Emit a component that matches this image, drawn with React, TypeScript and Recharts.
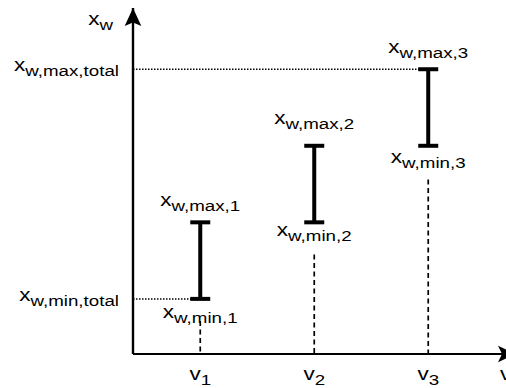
import React from 'react';
import {
  ComposedChart,
  XAxis,
  YAxis,
  Scatter,
  ErrorBar,
  ReferenceLine,
  ReferenceDot,
} from 'recharts';

// positions on the v axis and the x_w interval of each point
const V_POS = [1, 2, 3];
const V_SUBS = ['1', '2', '3'];
const XW_MIN = [1, 2, 3];
const XW_MAX = [2, 3, 4];
// where the dashed drop lines start (in x_w units)
const GUIDE_TOP = [0.71, 1.58, 2.56];

const MAX_LABEL_SUBS = ['w,max,1', 'w,max,2', 'w,max,3'];
const MIN_LABEL_SUBS = ['w,min,1', 'w,min,2', 'w,min,3'];
const TOTAL_MIN_SUB = 'w,min,total';
const TOTAL_MAX_SUB = 'w,max,total';

const X_DOMAIN = [0.41, 3.77];
const Y_DOMAIN = [0.28, 4.8];

const XW_MIN_TOTAL = Math.min(...XW_MIN);
const XW_MAX_TOTAL = Math.max(...XW_MAX);

const rows = V_POS.map((v, i) => ({
  i,
  v,
  lo: XW_MIN[i],
  hi: XW_MAX[i],
  mid: (XW_MIN[i] + XW_MAX[i]) / 2,
  err: (XW_MAX[i] - XW_MIN[i]) / 2,
}));

const FONT = '"Liberation Sans", Arial, Helvetica, sans-serif';
const STRETCH = 1.25;
const MAX_DY = [-16, -22, -16];
const MIN_DY = [19, 14, 17];

function SubText({ x, y, main, sub, anchor = 'middle' }: any) {
  return (
    <text
      transform={`translate(${x},${y}) scale(${STRETCH},1)`}
      textAnchor={anchor}
      fontFamily={FONT}
      fontSize={18}
      fill="#000"
    >
      {main}
      {sub ? (
        <tspan fontSize={15} dy={5}>
          {sub}
        </tspan>
      ) : null}
    </text>
  );
}

const VTick = (props: any) => {
  const { x, y, payload } = props;
  const idx = V_POS.indexOf(payload.value);
  return <SubText x={x} y={y} main="v" sub={V_SUBS[idx]} />;
};

const TotalTick = (props: any) => {
  const { x, y, payload } = props;
  const sub = payload.value === XW_MIN_TOTAL ? TOTAL_MIN_SUB : TOTAL_MAX_SUB;
  return <SubText x={x} y={y + 2} main="x" sub={sub} anchor="end" />;
};

const UpArrow = (props: any) => {
  const { cx, cy } = props;
  return (
    <g>
      <polygon
        points={`${cx},${cy} ${cx + 8.3},${cy + 18} ${cx},${cy + 14.5} ${cx - 8.3},${cy + 18}`}
        fill="#000"
      />
      <SubText x={cx - 20} y={cy + 17} main="x" sub="w" anchor="end" />
    </g>
  );
};

const RightArrow = (props: any) => {
  const { cx, cy } = props;
  return (
    <g>
      <polygon
        points={`${cx},${cy} ${cx - 18},${cy - 8.3} ${cx - 14},${cy} ${cx - 18},${cy + 8.3}`}
        fill="#000"
      />
      <SubText x={cx - 16} y={cy + 26} main="v" anchor="start" />
    </g>
  );
};

const MaxLabel = (props: any) => {
  const { cx, cy, payload } = props;
  const i = payload.i;
  return <SubText x={cx} y={cy + MAX_DY[i]} main="x" sub={MAX_LABEL_SUBS[i]} />;
};

const MinLabel = (props: any) => {
  const { cx, cy, payload } = props;
  const i = payload.i;
  return <SubText x={cx} y={cy + MIN_DY[i]} main="x" sub={MIN_LABEL_SUBS[i]} />;
};

export default function App() {
  return (
    <div
      style={{
        position: 'absolute',
        left: 0,
        top: 0,
        width: 506,
        height: 388,
        overflow: 'hidden',
        background: '#fff',
      }}
    >
      <ComposedChart
        width={520}
        height={388}
        data={rows}
        margin={{ top: 8, right: 4, bottom: 0, left: 0 }}
      >
        <XAxis
          type="number"
          dataKey="v"
          domain={X_DOMAIN}
          ticks={V_POS}
          height={34}
          tickSize={0}
          tickMargin={26}
          tickLine={false}
          axisLine={{ stroke: '#000', strokeWidth: 2.2 }}
          tick={<VTick />}
        />
        <YAxis
          type="number"
          domain={Y_DOMAIN}
          ticks={[XW_MIN_TOTAL, XW_MAX_TOTAL]}
          width={133}
          tickSize={0}
          tickMargin={14}
          tickLine={false}
          axisLine={{ stroke: '#000', strokeWidth: 2.4 }}
          tick={<TotalTick />}
        />

        {/* dashed drop lines to the v axis */}
        {V_POS.map((v, i) => (
          <ReferenceLine
            key={`g${i}`}
            segment={[
              { x: v, y: GUIDE_TOP[i] },
              { x: v, y: Y_DOMAIN[0] },
            ]}
            stroke="#000"
            strokeWidth={1.7}
            strokeDasharray="5 3.5"
          />
        ))}

        {/* dotted lines for the overall min / max */}
        <ReferenceLine
          segment={[
            { x: X_DOMAIN[0], y: XW_MAX_TOTAL },
            { x: V_POS[XW_MAX.indexOf(XW_MAX_TOTAL)], y: XW_MAX_TOTAL },
          ]}
          stroke="#000"
          strokeWidth={1.5}
          strokeDasharray="1.5 1.5"
        />
        <ReferenceLine
          segment={[
            { x: X_DOMAIN[0], y: XW_MIN_TOTAL },
            { x: V_POS[XW_MIN.indexOf(XW_MIN_TOTAL)], y: XW_MIN_TOTAL },
          ]}
          stroke="#000"
          strokeWidth={1.5}
          strokeDasharray="1.5 1.5"
        />

        <Scatter dataKey="mid" isAnimationActive={false} shape={() => <g />}>
          <ErrorBar
            dataKey="err"
            direction="y"
            width={10}
            strokeWidth={4}
            stroke="#000"
            isAnimationActive={false}
          />
        </Scatter>
        <Scatter dataKey="hi" isAnimationActive={false} shape={<MaxLabel />} />
        <Scatter dataKey="lo" isAnimationActive={false} shape={<MinLabel />} />

        <ReferenceDot
          x={X_DOMAIN[0]}
          y={Y_DOMAIN[1]}
          ifOverflow="visible"
          shape={<UpArrow />}
        />
        <ReferenceDot
          x={X_DOMAIN[1]}
          y={Y_DOMAIN[0]}
          ifOverflow="visible"
          shape={<RightArrow />}
        />
      </ComposedChart>
    </div>
  );
}
